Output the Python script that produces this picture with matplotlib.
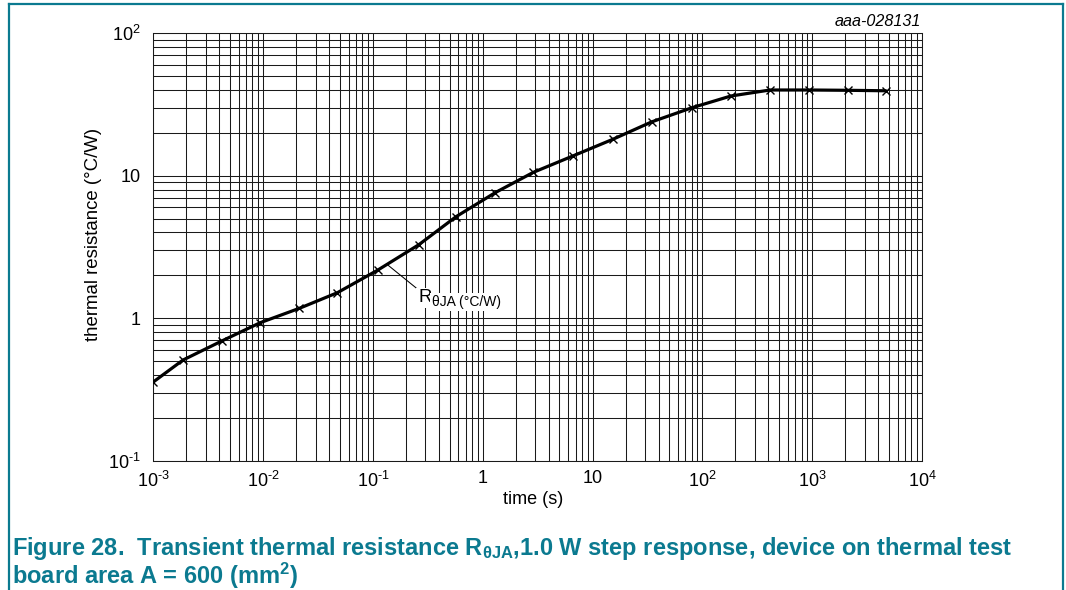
import matplotlib
matplotlib.use('Agg')
import matplotlib.pyplot as plt
from matplotlib.ticker import LogLocator, NullFormatter, FixedLocator, FixedFormatter
from matplotlib.lines import Line2D

plt.rcParams['font.family'] = ['Liberation Sans', 'DejaVu Sans']
plt.rcParams['mathtext.fontset'] = 'custom'
plt.rcParams['mathtext.rm'] = 'Liberation Sans'
plt.rcParams['mathtext.it'] = 'Liberation Sans:italic'
plt.rcParams['mathtext.bf'] = 'Liberation Sans:bold'

# ---- data ----
time_s = [1e-3, 1.865e-3, 4.2e-3, 9.4e-3, 0.0214, 0.0474, 0.111, 0.263, 0.571,
          1.294, 2.89, 6.6, 15.3, 34.6, 80, 182, 414, 937, 2110, 4680]
r_theta_ja = [0.357, 0.509, 0.692, 0.93, 1.174, 1.51, 2.18, 3.29, 5.16,
              7.6, 10.57, 13.76, 18.03, 23.9, 30.0, 36.3, 40.0, 40.0, 39.8, 39.5]

x_ticks = [1e-3, 1e-2, 1e-1, 1, 10, 1e2, 1e3, 1e4]
x_tick_labels = [r'$10^{\text{-3}}$', r'$10^{\text{-2}}$', r'$10^{\text{-1}}$', '1', '10',
                 '$10^{2}$', '$10^{3}$', '$10^{4}$']
y_ticks = [0.1, 1, 10, 100]
y_tick_labels = [r'$10^{\text{-1}}$', '1', '10', '$10^{2}$']

teal = '#0b7a90'
grid_c = '#1a1a1a'
fs = 13

fig = plt.figure(figsize=(10.66, 5.9), dpi=100)
ax = fig.add_axes([153.3 / 1066, 129.3 / 590, 768.7 / 1066, 427.4 / 590])
ax.set_xscale('log')
ax.set_yscale('log')
ax.set_xlim(x_ticks[0], x_ticks[-1])
ax.set_ylim(y_ticks[0], y_ticks[-1])

ax.xaxis.set_major_locator(FixedLocator(x_ticks))
ax.xaxis.set_major_formatter(FixedFormatter(x_tick_labels))
ax.yaxis.set_major_locator(FixedLocator(y_ticks))
ax.yaxis.set_major_formatter(FixedFormatter(y_tick_labels))
ax.xaxis.set_minor_locator(LogLocator(base=10, subs=range(2, 10), numticks=50))
ax.yaxis.set_minor_locator(LogLocator(base=10, subs=range(2, 10), numticks=50))
ax.xaxis.set_minor_formatter(NullFormatter())
ax.yaxis.set_minor_formatter(NullFormatter())
ax.tick_params(which='both', length=0, labelsize=fs)
ax.tick_params(axis='x', pad=7)
ax.tick_params(axis='y', pad=9)

ax.grid(which='both', color=grid_c, linewidth=0.75)
ax.set_axisbelow(True)
for s in ax.spines.values():
    s.set_color(grid_c)
    s.set_linewidth(0.75)

ax.plot(time_s, r_theta_ja, color='black', linewidth=2.3, marker='x',
        markersize=6, markeredgewidth=1.0, zorder=3, solid_capstyle='round')

r_lbl = ax.annotate('R', xy=(0.137, 2.36), xytext=(0.2576, 1.387),
                    va='center', ha='left', fontsize=13.4,
                    bbox=dict(boxstyle='square,pad=0.1', fc='white', ec='none'),
                    arrowprops=dict(arrowstyle='-', lw=0.75, color='black',
                                    shrinkA=0, shrinkB=0, relpos=(0, 1)),
                    zorder=4)
ax.annotate('θJA (°C/W)', xy=(1, 0), xycoords=r_lbl, xytext=(0.5, -2.0),
            textcoords='offset points', ha='left', va='bottom', fontsize=10,
            bbox=dict(boxstyle='square,pad=0.15', fc='white', ec='none'),
            zorder=4)

fig.text(93 / 1066, 1 - 234 / 590, 'thermal resistance (°C/W)', rotation=90,
         ha='center', va='center', fontsize=13.4)
fig.text(533 / 1066, 1 - 500 / 590, 'time (s)', ha='center', va='center',
         fontsize=fs)
fig.text(921 / 1066, 1 - 26 / 590, 'aaa-028131', ha='right', va='baseline',
         fontsize=11.6, style='italic')

# frame
fig.add_artist(Line2D([9 / 1066, 1063 / 1066], [1 - 4 / 590, 1 - 4 / 590],
                      transform=fig.transFigure, color=teal, lw=1.6))
fig.add_artist(Line2D([9 / 1066, 9 / 1066], [0, 1 - 4 / 590],
                      transform=fig.transFigure, color=teal, lw=1.6))
fig.add_artist(Line2D([1063 / 1066, 1063 / 1066], [0, 1 - 4 / 590],
                      transform=fig.transFigure, color=teal, lw=1.6))

cap_fs = 17.0
fig.text(12 / 1066, 1 - 555 / 590,
         r'Figure 28.  Transient thermal resistance R$_{\mathbf{\theta JA}}$,1.0 W step response, device on thermal test',
         ha='left', va='baseline', fontsize=cap_fs, fontweight='bold', color=teal)
fig.text(12 / 1066, 1 - 583.5 / 590, r'board area A = 600 (mm$^{\mathbf{2}}$)',
         ha='left', va='baseline', fontsize=cap_fs, fontweight='bold', color=teal)

fig.savefig('out.png', dpi=100)
